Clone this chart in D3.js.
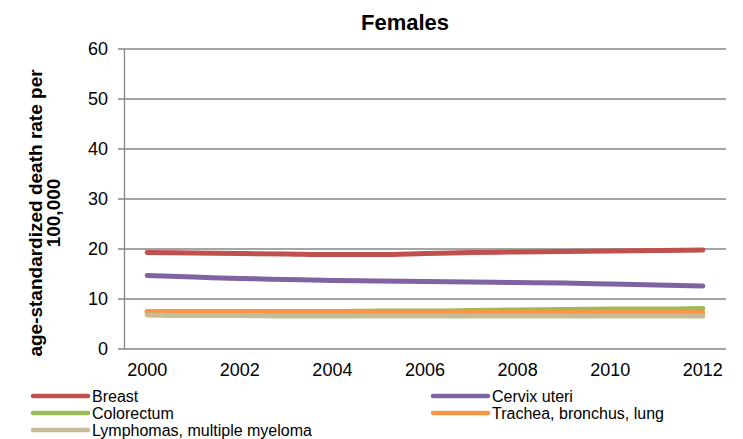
<!DOCTYPE html>
<html>
<head>
<meta charset="utf-8">
<script src="https://cdn.jsdelivr.net/npm/d3@7"></script>
<style>
  body { margin: 0; background: #fff; }
  text { font-family: "Liberation Sans", Arial, sans-serif; }
</style>
</head>
<body>
<svg width="743" height="439"></svg>
<script>
// data
var years = [2000, 2001, 2002, 2003, 2004, 2005, 2006, 2007, 2008, 2009, 2010, 2011, 2012];
var yTicks = [0, 10, 20, 30, 40, 50, 60];
var seriesNames = ['Breast', 'Cervix uteri', 'Colorectum', 'Trachea, bronchus, lung', 'Lymphomas, multiple myeloma'];
var breast = [19.3, 19.2, 19.1, 19.0, 18.9, 18.9, 19.1, 19.3, 19.4, 19.5, 19.6, 19.7, 19.8];
var cervix = [14.7, 14.4, 14.1, 13.9, 13.7, 13.6, 13.5, 13.4, 13.3, 13.2, 13.0, 12.8, 12.6];
var colorectum = [7.4, 7.4, 7.5, 7.5, 7.5, 7.6, 7.6, 7.7, 7.8, 7.9, 8.0, 8.0, 8.1];
var trachea = [7.5, 7.5, 7.5, 7.4, 7.4, 7.4, 7.4, 7.4, 7.3, 7.3, 7.3, 7.3, 7.3];
var lymphomas = [6.8, 6.7, 6.7, 6.6, 6.6, 6.6, 6.6, 6.6, 6.6, 6.6, 6.6, 6.6, 6.6];
var colors = ['#c0504d', '#8064a2', '#9bbb59', '#f79646', '#c4bd97'];

var series = [breast, cervix, colorectum, trachea, lymphomas];

var svg = d3.select('svg'),
    margin = {top: 49, right: 17, bottom: 90, left: 124},
    width = +svg.attr('width') - margin.left - margin.right,
    height = +svg.attr('height') - margin.top - margin.bottom;

var x = d3.scaleBand().domain(years).range([0, width]),
    y = d3.scaleLinear().domain([0, 60]).range([height, 0]);

var g = svg.append('g')
    .attr('transform', 'translate(' + margin.left + ',' + margin.top + ')');

// gridlines
g.selectAll('.grid')
  .data(yTicks)
  .enter().append('line')
    .attr('x1', -6)
    .attr('x2', width)
    .attr('y1', function(d) { return y(d); })
    .attr('y2', function(d) { return y(d); })
    .attr('stroke', '#868686')
    .attr('stroke-width', 1.3);

// y axis
var yAxis = g.append('g')
    .call(d3.axisLeft(y).tickValues(yTicks).tickSize(0).tickPadding(16));
yAxis.select('.domain').attr('stroke', '#868686').attr('stroke-width', 1.3);
yAxis.selectAll('text').style('font-size', '18px').attr('fill', '#000');

// x axis
var xAxis = g.append('g')
    .attr('transform', 'translate(0,' + height + ')')
    .call(d3.axisBottom(x).tickValues(years.filter(function(d) { return d % 2 === 0; })).tickSize(0).tickPadding(14));
xAxis.select('.domain').remove();
xAxis.selectAll('text').style('font-size', '18px').attr('fill', '#000');

// lines
var line = d3.line()
    .x(function(d, i) { return x(years[i]) + x.bandwidth() / 2; })
    .y(function(d) { return y(d); })
    .curve(d3.curveMonotoneX);

g.selectAll('.line')
  .data(series)
  .enter().append('path')
    .attr('fill', 'none')
    .attr('stroke', function(d, i) { return colors[i]; })
    .attr('stroke-width', 5)
    .attr('stroke-linecap', 'round')
    .attr('d', line);

// title
svg.append('text')
    .attr('x', 405)
    .attr('y', 30)
    .attr('text-anchor', 'middle')
    .style('font-size', '22px')
    .style('font-weight', 'bold')
    .text('Females');

// y label
var yl = svg.append('text')
    .attr('transform', 'translate(42,213) rotate(-90)')
    .attr('text-anchor', 'middle')
    .style('font-size', '19px')
    .style('font-weight', 'bold');
yl.append('tspan').attr('x', 0).attr('y', 0).text('age-standardized death rate per');
yl.append('tspan').attr('x', 0).attr('y', 18).text('100,000');

// legend
var legendPos = [[33, 396], [433, 396], [33, 413], [433, 413], [33, 430]];
var lg = svg.selectAll('.legend')
  .data(seriesNames)
  .enter().append('g')
    .attr('transform', function(d, i) { return 'translate(' + legendPos[i][0] + ',' + legendPos[i][1] + ')'; });
lg.append('line')
    .attr('x1', 0).attr('x2', 55)
    .attr('stroke', function(d, i) { return colors[i]; })
    .attr('stroke-width', 4.5)
    .attr('stroke-linecap', 'round');
lg.append('text')
    .attr('x', 59)
    .attr('y', 6)
    .style('font-size', '16px')
    .text(function(d) { return d; });
</script>
</body>
</html>
